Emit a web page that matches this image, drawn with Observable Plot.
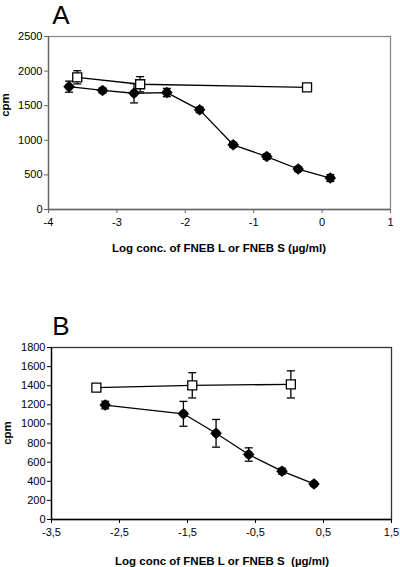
<!DOCTYPE html>
<html>
<head>
<meta charset="utf-8">
<script src="https://cdn.jsdelivr.net/npm/d3@7"></script>
<script src="https://cdn.jsdelivr.net/npm/@observablehq/plot@0.6"></script>
<style>
  html, body { margin: 0; padding: 0; background: #fff; }
  #wrap { width: 400px; }
  svg { display: block; }
</style>
</head>
<body>
<div id="wrap"></div>
<script>
// ---- Panel A data ----
const aFilledX   = [-3.70, -3.21, -2.75, -2.27, -1.79, -1.30, -0.81, -0.35, 0.12];
const aFilledY   = [1775, 1720, 1680, 1690, 1440, 935, 765, 585, 455];
const aFilledErr = [80, 35, 140, 60, 40, 35, 40, 35, 50];
const aOpenX     = [-3.58, -2.66, -0.22];
const aOpenY     = [1910, 1810, 1765];
const aOpenErr   = [95, 110, 35];
const aXTicks = [-4, -3, -2, -1, 0, 1];
const aYTicks = [0, 500, 1000, 1500, 2000, 2500];

// ---- Panel B data ----
const bFilledX   = [-2.71, -1.56, -1.08, -0.60, -0.11, 0.36];
const bFilledY   = [1198, 1106, 902, 680, 506, 372];
const bFilledErr = [40, 130, 145, 70, 30, 20];
const bOpenX     = [-2.84, -1.43, 0.02];
const bOpenY     = [1381, 1404, 1414];
const bOpenErr   = [30, 132, 142];
const bXTicks = [-3.5, -2.5, -1.5, -0.5, 0.5, 1.5];
const bYTicks = [0, 200, 400, 600, 800, 1000, 1200, 1400, 1600, 1800];

const toRows = (xs, ys, es) => xs.map((x, i) => ({x, y: ys[i], e: es[i]}));

const capSymbol = { draw(ctx) { ctx.moveTo(-4, 0); ctx.lineTo(4, 0); } };
const diamondSymbol = { draw(ctx) {
  ctx.moveTo(0, -5.5); ctx.lineTo(5.5, 0); ctx.lineTo(0, 5.5); ctx.lineTo(-5.5, 0); ctx.closePath();
  ctx.moveTo(4.2, 0); ctx.arc(0, 0, 4.2, 0, 2 * Math.PI);
} };
const squareSymbol = { draw(ctx) { ctx.rect(-4.5, -4.5, 9, 9); } };

function panel({filled, open, xDomain, yDomain, xTicks, yTicks, tickFmt, height, mt, mb, ml, mr, frameColor, axisColor}) {
  const errMarks = (rows) => [
    Plot.ruleX(rows, {x: "x", y1: d => d.y - d.e, y2: d => d.y + d.e, stroke: "#000", strokeWidth: 1.3}),
    Plot.dot(rows, {x: "x", y: d => d.y + d.e, symbol: capSymbol, stroke: "#000", strokeWidth: 1.3, fill: "none"}),
    Plot.dot(rows, {x: "x", y: d => d.y - d.e, symbol: capSymbol, stroke: "#000", strokeWidth: 1.3, fill: "none"})
  ];
  return Plot.plot({
    width: 400,
    height,
    marginTop: mt, marginBottom: mb, marginLeft: ml, marginRight: mr,
    style: {fontFamily: "'Liberation Sans', Arial, sans-serif", fontSize: "11px", color: "#000", background: "#fff", overflow: "visible"},
    x: {domain: xDomain, ticks: xTicks, tickFormat: tickFmt},
    y: {domain: yDomain, ticks: yTicks, tickFormat: d => String(d)},
    marks: [
      Plot.frame({stroke: frameColor, strokeWidth: 1.3}),
      Plot.ruleX([xDomain[0]], {stroke: axisColor, strokeWidth: 1.3}),
      Plot.ruleY([yDomain[0]], {stroke: axisColor, strokeWidth: 1.3}),
      Plot.axisX({ticks: xTicks, tickFormat: tickFmt, tickSize: 4, tickPadding: 5, label: null, stroke: axisColor, fontSize: "11px"}),
      Plot.axisY({ticks: yTicks, tickFormat: d => String(d), tickSize: 4, tickPadding: 2, label: null, stroke: axisColor, fontSize: "11px"}),
      ...errMarks(open),
      ...errMarks(filled),
      Plot.line(open, {x: "x", y: "y", stroke: "#000", strokeWidth: 1.3}),
      Plot.line(filled, {x: "x", y: "y", stroke: "#000", strokeWidth: 1.3}),
      Plot.dot(open, {x: "x", y: "y", symbol: squareSymbol, fill: "#fff", stroke: "#000", strokeWidth: 1.3}),
      Plot.dot(filled, {x: "x", y: "y", symbol: diamondSymbol, fill: "#000", stroke: "#000", strokeWidth: 0.5})
    ]
  });
}

const wrap = document.getElementById("wrap");

function addLabels(svg, {letter, letterX, letterY, xLabel, xLabelX, xLabelY, yLabelX, yLabelY}) {
  const ns = "http://www.w3.org/2000/svg";
  const mk = (txt, attrs) => {
    const t = document.createElementNS(ns, "text");
    for (const k in attrs) t.setAttribute(k, attrs[k]);
    t.textContent = txt;
    svg.appendChild(t);
  };
  mk(letter, {x: letterX, y: letterY, "font-size": 26, "font-family": "'Liberation Sans', Arial, sans-serif", fill: "#000"});
  mk(xLabel, {x: xLabelX, y: xLabelY, "font-size": 11.5, "font-weight": "bold", "text-anchor": "middle", "font-family": "'Liberation Sans', Arial, sans-serif", fill: "#000"});
  mk("cpm", {transform: `translate(${yLabelX},${yLabelY}) rotate(-90)`, "font-size": 11.5, "font-weight": "bold", "text-anchor": "middle", "font-family": "'Liberation Sans', Arial, sans-serif", fill: "#000"});
}

const svgA = panel({
  filled: toRows(aFilledX, aFilledY, aFilledErr),
  open: toRows(aOpenX, aOpenY, aOpenErr),
  xDomain: [-4, 1], yDomain: [0, 2500], xTicks: aXTicks, yTicks: aYTicks,
  tickFmt: d => String(d),
  height: 283, mt: 36, mb: 74, ml: 48, mr: 10,
  frameColor: "#8a8a8a", axisColor: "#666"
});
addLabels(svgA, {letter: "A", letterX: 61, letterY: 24, xLabel: "Log conc. of FNEB L or FNEB S (µg/ml)", xLabelX: 219, xLabelY: 252, yLabelX: 9, yLabelY: 105});
wrap.appendChild(svgA);

const svgB = panel({
  filled: toRows(bFilledX, bFilledY, bFilledErr),
  open: toRows(bOpenX, bOpenY, bOpenErr),
  xDomain: [-3.5, 1.5], yDomain: [0, 1800], xTicks: bXTicks, yTicks: bYTicks,
  tickFmt: d => String(d).replace(".", ","),
  height: 284, mt: 64, mb: 48, ml: 51, mr: 9,
  frameColor: "#333", axisColor: "#000"
});
addLabels(svgB, {letter: "B", letterX: 61, letterY: 52, xLabel: "Log conc of FNEB L or FNEB S  (µg/ml)", xLabelX: 222, xLabelY: 282, yLabelX: 11, yLabelY: 150});
wrap.appendChild(svgB);
</script>
</body>
</html>
